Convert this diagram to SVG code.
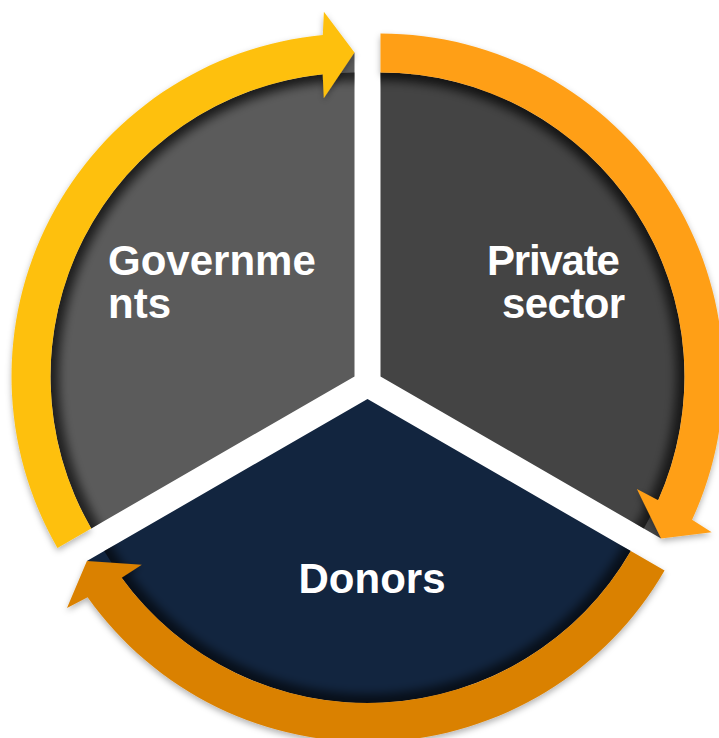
<svg xmlns="http://www.w3.org/2000/svg" width="719" height="738" viewBox="0 0 719 738">
  <style>
    .lbl { font-family: "Liberation Sans", Arial, sans-serif; font-weight: bold; font-size: 42px; fill: #ffffff; }
    .inshadow { fill: none; stroke: #000000; stroke-width: 18; stroke-opacity: 0.6; filter: url(#blur); }
  </style>
  <defs>
    <filter id="blur" x="-20%" y="-20%" width="140%" height="140%">
      <feGaussianBlur stdDeviation="5"/>
    </filter>
    <filter id="drop" x="-20%" y="-20%" width="140%" height="140%">
      <feDropShadow dx="0" dy="3" stdDeviation="3" flood-color="#000000" flood-opacity="0.3"/>
    </filter>
    <clipPath id="clipGov">
      <path d="M354.5,376.5 L91.2,528.5 A304,304 0 0 1 354.5,72.5 Z"/>
    </clipPath>
    <clipPath id="clipPriv">
      <path d="M380.5,376.5 L380.5,72.5 A304,304 0 0 1 643.8,528.5 Z"/>
    </clipPath>
    <clipPath id="clipDon">
      <path d="M367.5,399 L630.8,551 A304,304 0 0 1 104.2,551 Z"/>
    </clipPath>
  </defs>

  <g id="governments">
    <path d="M354.5,376.5 L91.2,528.5 A304,304 0 0 1 325.4,73.9 L354.5,52.5 Z" fill="#5b5b5b"/>
    <g clip-path="url(#clipGov)">
      <circle cx="354.5" cy="376.5" r="304" class="inshadow"/>
    </g>
    <text class="lbl" x="108" y="275">Governme</text>
    <text class="lbl" x="108" y="318">nts</text>
  </g>

  <g id="private-sector">
    <path d="M380.5,376.5 L380.5,72.5 A304,304 0 0 1 657.0,502.9 L661.1,538.5 Z" fill="#444444"/>
    <g clip-path="url(#clipPriv)">
      <circle cx="380.5" cy="376.5" r="304" class="inshadow"/>
    </g>
    <text class="lbl" x="487" y="275" letter-spacing="-1.2">Private</text>
    <text class="lbl" x="502" y="318" letter-spacing="-0.6">sector</text>
  </g>

  <g id="donors">
    <path d="M367.5,399 L630.8,551 A304,304 0 0 1 119.9,575.5 L86.9,561 Z" fill="#12253f"/>
    <g clip-path="url(#clipDon)">
      <circle cx="367.5" cy="399" r="304" class="inshadow"/>
    </g>
    <text class="lbl" x="372" y="593" text-anchor="middle">Donors</text>
  </g>

  <g id="connectors" filter="url(#drop)">
    <path id="arrow-gov-to-private" fill="#fec011" d="M91.2,528.5 A304,304 0 0 1 322.7,74.2 L323.8,98.2 L354.5,52.5 L323.9,11.8 L322.8,35.0 A343,343 0 0 0 57.45,548.0 Z"/>
    <path id="arrow-private-to-donors" fill="#ff9f17" d="M380.5,72.5 A304,304 0 0 1 658.2,500.2 L636.9,489.0 L661.1,538.5 L711.7,532.3 L692.1,519.8 A343,343 0 0 0 380.5,33.5 Z"/>
    <path id="arrow-donors-to-gov" fill="#da8100" d="M630.8,551 A304,304 0 0 1 121.6,577.7 L141.8,564.8 L86.9,561 L67.0,607.9 L87.6,597.2 A343,343 0 0 0 664.55,570.5 Z"/>
  </g>
</svg>
